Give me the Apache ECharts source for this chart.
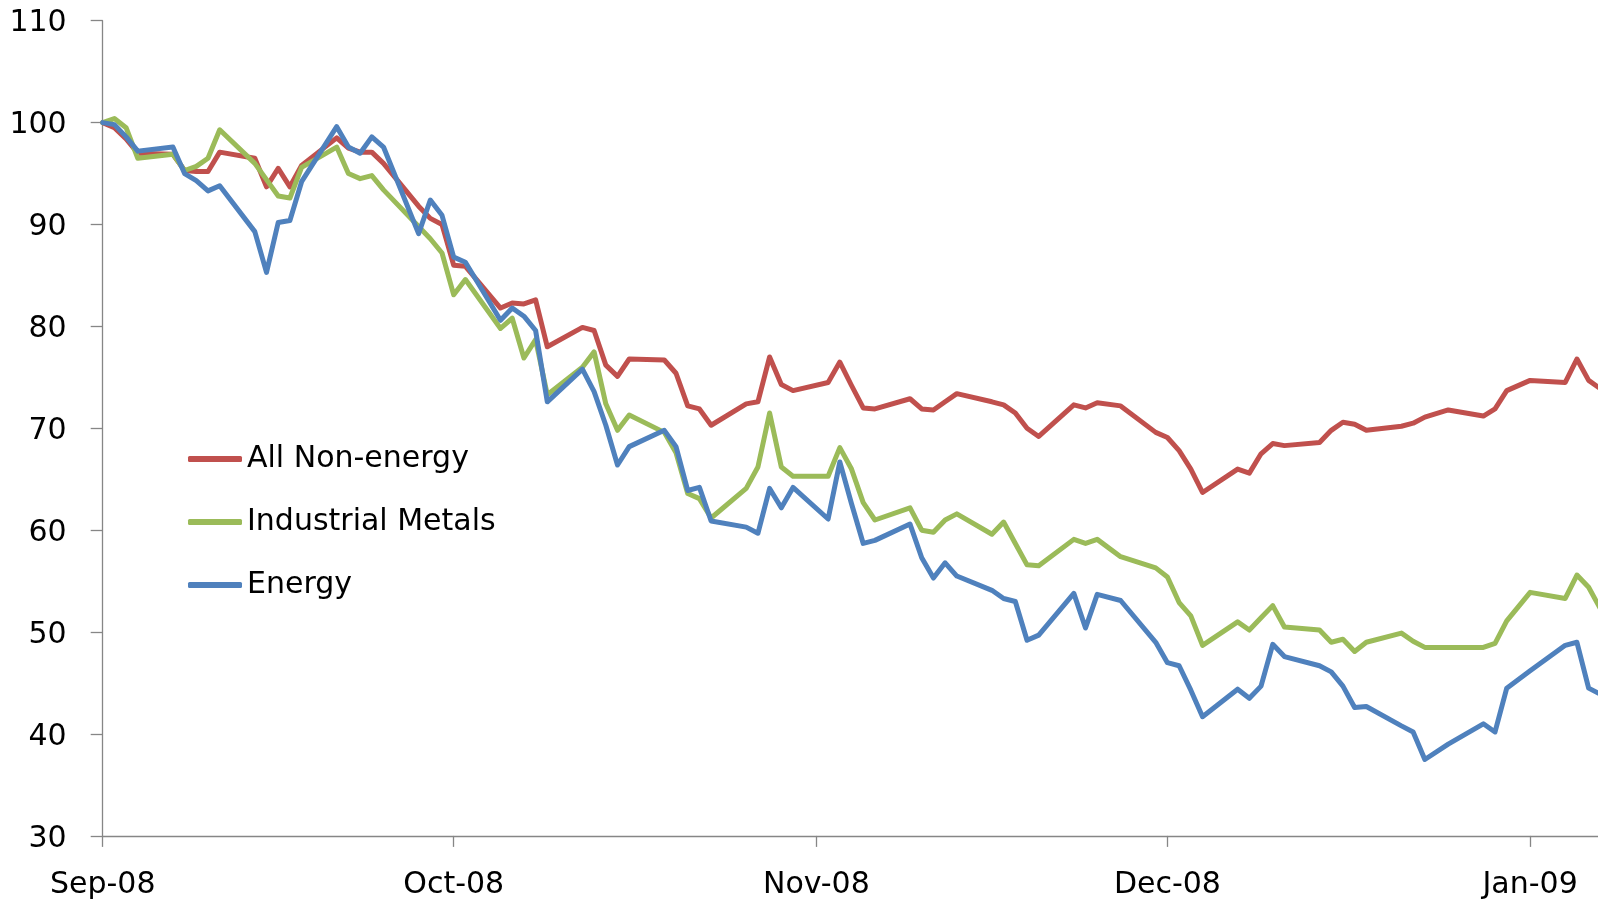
<!DOCTYPE html>
<html>
<head>
<meta charset="utf-8">
<title>Commodity price indices, Sep 2008 - Jan 2009</title>
<script src="https://cdn.jsdelivr.net/npm/echarts@6/dist/echarts.min.js"></script>
<style>
  html, body { margin: 0; padding: 0; background: #ffffff; }
  #chart { width: 1598px; height: 900px; }
</style>
</head>
<body>
<div id="chart"></div>
<script>
// Trading days (index, 2 Sep 2008 = 100)
const dates = [
  '2008-09-02','2008-09-03','2008-09-04','2008-09-05',
  '2008-09-08','2008-09-09','2008-09-10','2008-09-11','2008-09-12',
  '2008-09-15','2008-09-16','2008-09-17','2008-09-18','2008-09-19',
  '2008-09-22','2008-09-23','2008-09-24','2008-09-25','2008-09-26',
  '2008-09-29','2008-09-30','2008-10-01','2008-10-02','2008-10-03',
  '2008-10-06','2008-10-07','2008-10-08','2008-10-09','2008-10-10',
  '2008-10-13','2008-10-14','2008-10-15','2008-10-16','2008-10-17',
  '2008-10-20','2008-10-21','2008-10-22','2008-10-23','2008-10-24',
  '2008-10-27','2008-10-28','2008-10-29','2008-10-30','2008-10-31',
  '2008-11-03','2008-11-04','2008-11-05','2008-11-06','2008-11-07',
  '2008-11-10','2008-11-11','2008-11-12','2008-11-13','2008-11-14',
  '2008-11-17','2008-11-18','2008-11-19','2008-11-20','2008-11-21',
  '2008-11-24','2008-11-25','2008-11-26','2008-11-28',
  '2008-12-01','2008-12-02','2008-12-03','2008-12-04','2008-12-05',
  '2008-12-08','2008-12-09','2008-12-10','2008-12-11','2008-12-12',
  '2008-12-15','2008-12-16','2008-12-17','2008-12-18','2008-12-19',
  '2008-12-22','2008-12-23','2008-12-24','2008-12-26',
  '2008-12-29','2008-12-30','2008-12-31','2009-01-02',
  '2009-01-05','2009-01-06','2009-01-07','2009-01-08'
];

const allNonEnergy = [
  100.0, 99.5, 98.4, 97.0,
  96.9, 95.3, 95.2, 95.2, 97.1,
  96.5, 93.7, 95.5, 93.7, 95.8,
  98.5, 97.5, 97.1, 97.1, 96.0,
  91.8, 90.6, 90.0, 86.0, 85.9,
  81.8, 82.3, 82.2, 82.6, 78.0,
  79.9, 79.6, 76.2, 75.1, 76.8,
  76.7, 75.4, 72.2, 71.9, 70.3,
  72.4, 72.6, 77.0, 74.3, 73.7,
  74.5, 76.5, 74.2, 72.0, 71.9,
  72.9, 71.9, 71.8, 72.6, 73.4,
  72.6, 72.3, 71.5, 70.0, 69.2,
  72.3, 72.0, 72.5, 72.2,
  69.6, 69.1, 67.8, 66.0, 63.7,
  66.0, 65.6, 67.5, 68.5, 68.3,
  68.6, 69.8, 70.6, 70.4, 69.8,
  70.2, 70.5, 71.1, 71.8,
  71.2, 71.9, 73.7, 74.7,
  74.5, 76.8, 74.7, 73.9
];

const industrialMetals = [
  100.0, 100.4, 99.5, 96.5,
  96.9, 95.3, 95.7, 96.5, 99.3,
  96.0, 94.4, 92.8, 92.6, 95.6,
  97.6, 95.0, 94.5, 94.8, 93.4,
  89.8, 88.6, 87.2, 83.1, 84.6,
  79.8, 80.8, 76.9, 78.7, 73.3,
  76.0, 77.5, 72.4, 69.8, 71.3,
  69.6, 67.6, 63.6, 63.1, 61.2,
  64.1, 66.2, 71.5, 66.2, 65.3,
  65.3, 68.1, 66.0, 62.7, 61.0,
  62.2, 60.0, 59.8, 61.0, 61.6,
  59.6, 60.8, 58.7, 56.6, 56.5,
  59.1, 58.7, 59.1, 57.4,
  56.3, 55.4, 52.9, 51.6, 48.7,
  51.0, 50.2, 51.4, 52.6, 50.5,
  50.2, 49.0, 49.3, 48.1, 49.0,
  49.9, 49.1, 48.5, 48.5,
  48.5, 48.9, 51.1, 53.9,
  53.3, 55.6, 54.4, 52.3
];

const energy = [
  100.0, 99.8, 98.6, 97.2,
  97.6, 95.0, 94.3, 93.3, 93.8,
  89.3, 85.3, 90.2, 90.4, 94.2,
  99.6, 97.6, 97.0, 98.6, 97.6,
  89.1, 92.4, 90.9, 86.8, 86.3,
  80.6, 81.8, 81.0, 79.6, 72.6,
  75.8, 73.6, 70.3, 66.4, 68.2,
  69.8, 68.2, 63.9, 64.2, 60.9,
  60.3, 59.7, 64.1, 62.2, 64.2,
  61.1, 66.7, 62.6, 58.7, 59.0,
  60.6, 57.3, 55.3, 56.8, 55.5,
  54.1, 53.3, 53.0, 49.2, 49.7,
  53.8, 50.4, 53.7, 53.1,
  49.0, 47.0, 46.7, 44.3, 41.7,
  44.4, 43.5, 44.7, 48.8, 47.6,
  46.7, 46.1, 44.7, 42.6, 42.7,
  40.8, 40.2, 37.5, 39.0,
  41.0, 40.2, 44.5, 46.2,
  48.7, 49.0, 44.5, 43.9
];

// Monthly ticks on the date axis and their labels
const tickDates = ['2008-09-02', '2008-10-02', '2008-11-02', '2008-12-02', '2009-01-02'];
const tickLabels = ['Sep-08', 'Oct-08', 'Nov-08', 'Dec-08', 'Jan-09'];

const yTicks = [30, 40, 50, 60, 70, 80, 90, 100, 110];

const seriesNames = ['All Non-energy', 'Industrial Metals', 'Energy'];
const seriesColors = ['#C0504D', '#9BBB59', '#4F81BD'];

// Dates are placed on a linear millisecond scale (UTC)
function toTime(s) {
  const [y, m, d] = s.split('-').map(Number);
  return Date.UTC(y, m - 1, d);
}

const DAY = 86400000;
const xMin = toTime(dates[0]);
const xMax = xMin + 127.8 * DAY;
const tickTimes = tickDates.map(toTime);
const labelByTime = {};
tickTimes.forEach((t, i) => { labelByTime[t] = tickLabels[i]; });

const values = [allNonEnergy, industrialMetals, energy];
const FONT = 'DejaVu Sans';
const AXIS_GRAY = '#868686';

const chart = echarts.init(document.getElementById('chart'), null, { renderer: 'canvas' });

chart.setOption({
  animation: false,
  backgroundColor: '#ffffff',
  grid: { left: 102.7, right: 0, top: 20.7, bottom: 64.1, containLabel: false },
  legend: {
    orient: 'vertical',
    left: 183,
    top: 439,
    itemWidth: 54,
    itemHeight: 6,
    itemGap: 33,
    icon: 'roundRect',
    data: seriesNames,
    textStyle: { fontFamily: FONT, fontSize: 30, color: '#000000' }
  },
  xAxis: {
    type: 'value',
    min: xMin,
    max: xMax,
    axisLine: { show: true, lineStyle: { color: AXIS_GRAY, width: 1.3 } },
    axisTick: {
      show: true, inside: false, length: 11,
      customValues: tickTimes,
      lineStyle: { color: AXIS_GRAY, width: 1.3 }
    },
    axisLabel: {
      customValues: tickTimes,
      formatter: (v) => labelByTime[v] || '',
      fontFamily: FONT, fontSize: 30, color: '#000000', margin: 34
    },
    splitLine: { show: false }
  },
  yAxis: {
    type: 'value',
    min: yTicks[0],
    max: yTicks[yTicks.length - 1],
    interval: 10,
    axisLine: { show: true, lineStyle: { color: AXIS_GRAY, width: 1.3 } },
    axisTick: { show: true, inside: false, length: 12, lineStyle: { color: AXIS_GRAY, width: 1.3 } },
    axisLabel: {
      fontFamily: FONT, fontSize: 30, color: '#000000', margin: 36,
      formatter: (v) => '{n|' + v + '}',
      rich: {
        n: { fontFamily: FONT, fontSize: 30, color: '#000000', padding: [6, 0, 0, 0] }
      }
    },
    splitLine: { show: false }
  },
  series: seriesNames.map((name, k) => ({
    name: name,
    type: 'line',
    showSymbol: false,
    symbol: 'none',
    clip: true,
    color: seriesColors[k],
    lineStyle: { width: 5, color: seriesColors[k], join: 'round', cap: 'round' },
    emphasis: { disabled: true },
    data: dates.map((d, i) => [toTime(d), values[k][i]])
  }))
});
</script>
</body>
</html>
